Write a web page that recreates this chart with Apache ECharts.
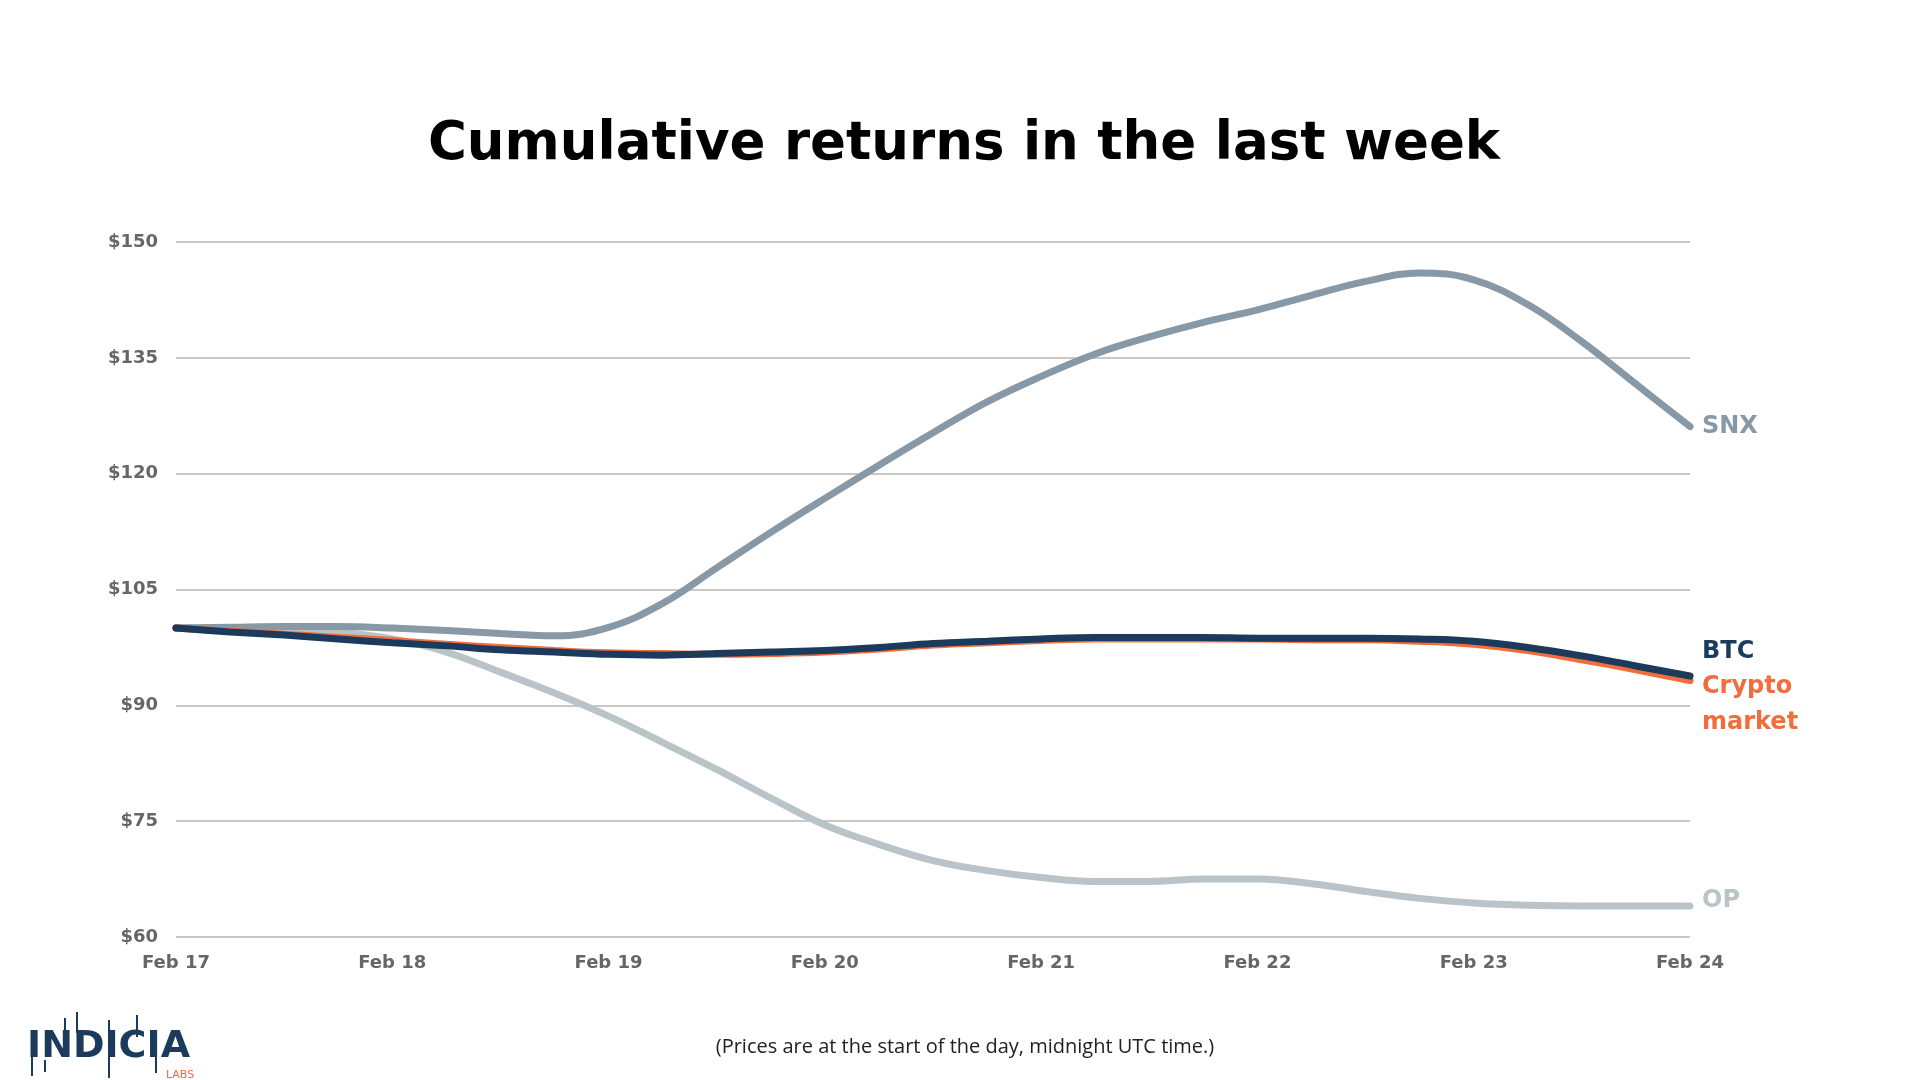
<!DOCTYPE html>
<html>
<head>
<meta charset="utf-8">
<script src="https://cdn.jsdelivr.net/npm/echarts@6/dist/echarts.min.js"></script>
<style>
html,body{margin:0;padding:0;background:#fff;}
#chart{width:1920px;height:1080px;}
</style>
</head>
<body>
<div id="chart"></div>
<script>
// Tick labels (one per day) and 6-hourly sampling points
const days = ['Feb 17','Feb 18','Feb 19','Feb 20','Feb 21','Feb 22','Feb 23','Feb 24'];
const hours = ['00h','06h','12h','18h'];
const categories = [];
days.forEach(function (d, i) {
  if (i < days.length - 1) { hours.forEach(function (h) { categories.push(d + ' ' + h); }); }
  else { categories.push(d + ' 00h'); }
});

const snx    = [100.0, 100.1, 100.2, 100.2, 100.0, 99.7, 99.3, 99.0, 100.1, 103.2, 107.8, 112.4, 116.8, 121.1, 125.3, 129.3, 132.6, 135.5, 137.7, 139.6, 141.2, 143.1, 144.9, 146.0, 145.1, 141.9, 137.1, 131.6, 126.1];
const op     = [100.0, 100.0, 100.0, 99.5, 98.6, 96.9, 94.3, 91.6, 88.6, 85.2, 81.7, 78.0, 74.5, 72.0, 69.9, 68.6, 67.7, 67.2, 67.2, 67.5, 67.5, 66.9, 65.9, 65.0, 64.4, 64.1, 64.0, 64.0, 64.0];
const btc    = [100.0, 99.5, 99.1, 98.6, 98.1, 97.7, 97.2, 96.9, 96.6, 96.5, 96.7, 96.9, 97.1, 97.5, 98.0, 98.3, 98.6, 98.8, 98.8, 98.8, 98.7, 98.7, 98.7, 98.6, 98.3, 97.5, 96.4, 95.1, 93.8];
const crypto = [100.0, 99.6, 99.2, 98.8, 98.4, 97.9, 97.5, 97.1, 96.8, 96.7, 96.6, 96.7, 96.9, 97.3, 97.8, 98.1, 98.4, 98.6, 98.6, 98.6, 98.6, 98.5, 98.5, 98.3, 97.9, 97.1, 95.9, 94.6, 93.2];
const yTicks = [60, 75, 90, 105, 120, 135, 150];

const chart = echarts.init(document.getElementById('chart'), null, {renderer:'canvas'});
const FONT = 'DejaVu Sans';

function lineSeries(name, data, color, width, z, label, offset, extra) {
  return {
    name: name, type: 'line', data: data, smooth: 0.4, symbol: 'none', z: z,
    lineStyle: {color: color, width: width, cap: 'round'},
    endLabel: Object.assign({
      show: true, formatter: label, color: color, fontFamily: FONT,
      fontWeight: 'bold', fontSize: 24, distance: 12, offset: offset
    }, extra || {}),
    emphasis: {disabled: true}
  };
}

const option = {
  backgroundColor: '#ffffff',
  animation: false,
  grid: {left: 176, right: 230, top: 242, bottom: 143, containLabel: false},
  xAxis: {
    type: 'category', data: categories, boundaryGap: false,
    axisLine: {show: false}, axisTick: {show: false},
    axisLabel: {
      interval: 3, color: '#666666', fontFamily: FONT, fontWeight: 'bold',
      fontSize: 18, margin: 17,
      formatter: function (v) { return v.split(' ').slice(0, 2).join(' '); }
    },
    splitLine: {show: false}
  },
  yAxis: {
    type: 'value', min: yTicks[0], max: yTicks[yTicks.length - 1], interval: 15,
    axisLine: {show: false}, axisTick: {show: false},
    axisLabel: {
      color: '#666666', fontFamily: FONT, fontWeight: 'bold', fontSize: 18, margin: 18,
      formatter: function (v) { return '$' + v; }
    },
    splitLine: {lineStyle: {color: '#C8C8C8', width: 2}}
  },
  series: [
    lineSeries('OP', op, '#B9C3C8', 7, 2, 'OP', [0, -5]),
    lineSeries('SNX', snx, '#8799A6', 7, 3, 'SNX', [0, 0]),
    lineSeries('Crypto market', crypto, '#F26D3D', 7, 4, 'Crypto\nmarket', [0, 24], {lineHeight: 36}),
    lineSeries('BTC', btc, '#1B3A5C', 7, 5, 'BTC', [0, -24])
  ],
  graphic: [
    {type: 'text', x: 964, y: 145, z: 10,
     style: {text: 'Cumulative returns in the last week', fontFamily: FONT, fontWeight: 'bold',
             fontSize: 53, fill: '#000000', align: 'center', verticalAlign: 'middle'}},
    {type: 'text', x: 965, y: 1047, z: 10,
     style: {text: '(Prices are at the start of the day, midnight UTC time.)', fontFamily: 'Open Sans',
             fontSize: 20, fill: '#222222', align: 'center', verticalAlign: 'middle'}},
    // Logo
    {type: 'text', x: 27, y: 1047, z: 10,
     style: {text: 'INDICIA', fontFamily: FONT, fontWeight: 'bold', fontSize: 38, fill: '#1B3A5C',
             align: 'left', verticalAlign: 'middle'}},
    {type: 'text', x: 180, y: 1075, z: 10,
     style: {text: 'LABS', fontFamily: FONT, fontSize: 11, fill: '#F26D3D',
             align: 'center', verticalAlign: 'middle'}},
    {type: 'line', shape: {x1: 32, y1: 1050, x2: 32, y2: 1076}, style: {stroke: '#1B3A5C', lineWidth: 2}},
    {type: 'line', shape: {x1: 45, y1: 1060, x2: 45, y2: 1072}, style: {stroke: '#1B3A5C', lineWidth: 2}},
    {type: 'line', shape: {x1: 65, y1: 1018, x2: 65, y2: 1033}, style: {stroke: '#1B3A5C', lineWidth: 2}},
    {type: 'line', shape: {x1: 77, y1: 1012, x2: 77, y2: 1033}, style: {stroke: '#1B3A5C', lineWidth: 2}},
    {type: 'line', shape: {x1: 109, y1: 1020, x2: 109, y2: 1078}, style: {stroke: '#1B3A5C', lineWidth: 2}},
    {type: 'line', shape: {x1: 137, y1: 1015, x2: 137, y2: 1037}, style: {stroke: '#1B3A5C', lineWidth: 2}},
    {type: 'line', shape: {x1: 156, y1: 1052, x2: 156, y2: 1073}, style: {stroke: '#1B3A5C', lineWidth: 2}}
  ]
};
chart.setOption(option);
</script>
</body>
</html>
